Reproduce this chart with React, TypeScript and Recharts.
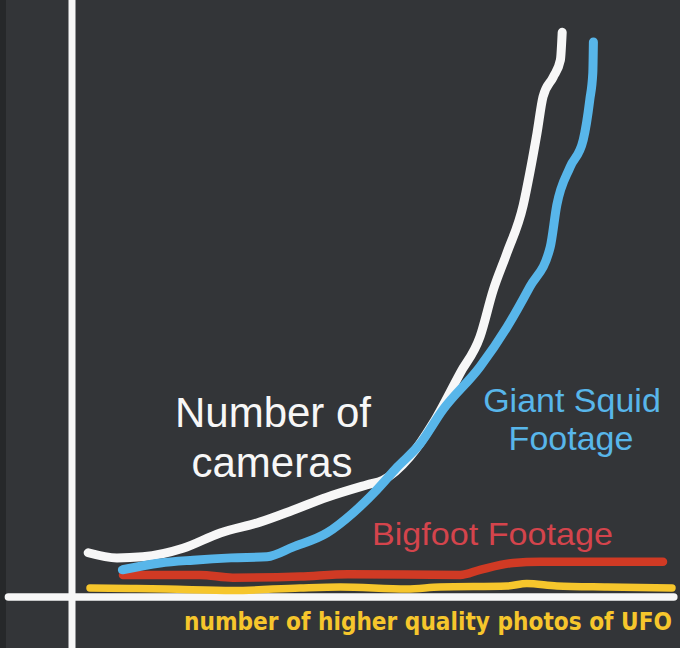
import React from "react";
import { LineChart, Line, XAxis, YAxis, ReferenceLine } from "recharts";

// x: time (0-100), y: amount (0-100)
const camerasX = [2.7, 7.5, 11.8, 18.5, 24.7, 31.3, 36.8, 42.5, 49.2, 51.8, 56.3, 60.2, 64.7, 68, 70.2, 72.5, 75.2, 76.3, 77.5, 78.5, 80.2, 81.4, 81.7];
const camerasY = [7.8, 6.9, 7.1, 8.6, 11.3, 13.2, 15.3, 17.6, 19.8, 20.6, 24.7, 30.7, 39.5, 45.9, 54.1, 60.7, 69.1, 74.8, 81.8, 88.2, 91.7, 94.7, 99.6];

const squidX = [8.4, 14.7, 20.2, 26.5, 32.5, 36.8, 42.5, 46.8, 50.8, 54.2, 58, 61.8, 68, 72.5, 76.3, 79.7, 80.8, 83, 85.2, 86.3, 86.8, 86.9];
const squidY = [4.8, 6.0, 6.5, 6.9, 7.1, 8.8, 11.3, 14.8, 18.9, 22.9, 27, 33, 40.6, 47.6, 54.7, 61.7, 69.1, 75.8, 80.6, 87.7, 92.4, 97.9];

const bigfootX = [8.5, 21.3, 26.8, 38, 46, 64.7, 68, 73.5, 78, 98.5];
const bigfootY = [3.9, 3.9, 3.4, 3.6, 4.0, 3.9, 4.8, 6.0, 6.2, 6.2];

const ufoX = [3, 9.7, 15.8, 26.8, 38, 44.7, 55.8, 61.3, 72.5, 75.8, 80.8, 89.2, 100];
const ufoY = [1.6, 1.5, 1.4, 1.15, 1.6, 1.76, 1.4, 1.76, 1.94, 2.38, 1.94, 1.76, 1.6];

const labelCameras = ["Number of", "cameras"];
const labelSquid = ["Giant Squid", "Footage"];
const labelBigfoot = "Bigfoot Footage";
const labelUfo = "number of higher quality photos of UFO";

const toPoints = (xs: number[], ys: number[]) => xs.map((x, i) => ({ x, y: ys[i] }));

const cameras = toPoints(camerasX, camerasY);
const squid = toPoints(squidX, squidY);
const bigfoot = toPoints(bigfootX, bigfootY);
const ufo = toPoints(ufoX, ufoY);

const BG = "#333538";
const WHITE = "#f7f7f7";
const BLUE = "#58b6ea";
const RED = "#d03a24";
const YELLOW = "#f6c62c";

export default function App() {
  const W = 680;
  const H = 648;
  return (
    <div style={{ position: "absolute", left: 0, top: 0, width: W, height: H, background: BG, overflow: "hidden" }}>
      <div style={{ position: "absolute", left: 0, top: 0, width: 6, height: H, background: "#26282a" }} />
      <LineChart
        width={W}
        height={H}
        margin={{ top: 30, right: 8, bottom: 51, left: 72 }}
        style={{ position: "absolute", left: 0, top: 0 }}
      >
        <XAxis type="number" dataKey="x" domain={[0, 100]} hide />
        <YAxis type="number" dataKey="y" domain={[0, 100]} hide />
        <ReferenceLine
          segment={[{ x: 0, y: -10 }, { x: 0, y: 106 }]}
          stroke={WHITE}
          strokeWidth={7}
          ifOverflow="visible"
        />
        <ReferenceLine
          segment={[{ x: -10.6, y: 0 }, { x: 100.3, y: 0 }]}
          stroke={WHITE}
          strokeWidth={7.5}
          strokeLinecap="round"
          ifOverflow="visible"
        />
        <Line data={ufo} dataKey="y" type="monotone" stroke={YELLOW} strokeWidth={7.5} dot={false} activeDot={false} strokeLinecap="round" strokeLinejoin="round" isAnimationActive={false} />
        <Line data={bigfoot} dataKey="y" type="monotone" stroke={RED} strokeWidth={8.5} dot={false} activeDot={false} strokeLinecap="round" strokeLinejoin="round" isAnimationActive={false} />
        <Line data={cameras} dataKey="y" type="monotone" stroke={WHITE} strokeWidth={9} dot={false} activeDot={false} strokeLinecap="round" strokeLinejoin="round" isAnimationActive={false} />
        <Line data={squid} dataKey="y" type="monotone" stroke={BLUE} strokeWidth={9} dot={false} activeDot={false} strokeLinecap="round" strokeLinejoin="round" isAnimationActive={false} />
      </LineChart>
      <svg width={W} height={H} style={{ position: "absolute", left: 0, top: 0, pointerEvents: "none" }}>
        <g fontFamily="'Liberation Sans', Arial, sans-serif">
          <text x={273} y={427} fontSize={42} fill={WHITE} textAnchor="middle">{labelCameras[0]}</text>
          <text x={272} y={477} fontSize={42} fill={WHITE} textAnchor="middle">{labelCameras[1]}</text>
          <text x={572} y={412} fontSize={34} fill={BLUE} textAnchor="middle">{labelSquid[0]}</text>
          <text x={571} y={450} fontSize={34} fill={BLUE} textAnchor="middle">{labelSquid[1]}</text>
          <text x={372} y={545} fontSize={32} fill="#d4444c" textLength={241} lengthAdjust="spacingAndGlyphs">{labelBigfoot}</text>
        </g>
        <text
          x={184}
          y={630}
          fontSize={24}
          fontWeight="bold"
          fontFamily="'DejaVu Sans', sans-serif"
          fill={YELLOW}
          textLength={488}
          lengthAdjust="spacingAndGlyphs"
        >
          {labelUfo}
        </text>
      </svg>
    </div>
  );
}
